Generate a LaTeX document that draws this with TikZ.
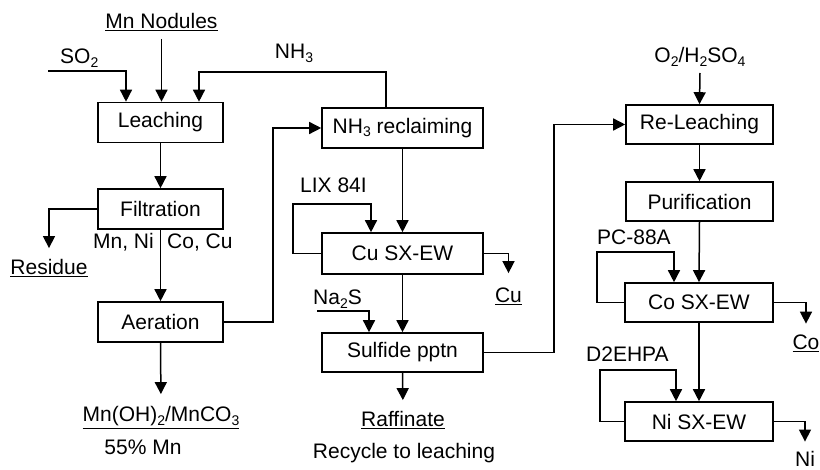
\documentclass[tikz,border=0pt]{standalone}
\usepackage{fontspec}
\setmainfont{Liberation Sans}
\usetikzlibrary{arrows.meta}
\newcommand\chsub[1]{\raisebox{-0.3ex}{\fontsize{14}{14}\selectfont #1}}
\begin{document}
\begin{tikzpicture}[x=1pt,y=-1pt, font=\fontsize{21}{25}\selectfont,
 box/.style={draw, line width=1.6pt, inner sep=0pt, minimum height=40pt},
 lab/.style={inner sep=0pt, anchor=base},
 labw/.style={inner sep=0pt, anchor=base west},
 labe/.style={inner sep=0pt, anchor=base east},
 arr/.style={line width=1.5pt, -{Triangle[width=12pt,length=12pt]}},
 ln/.style={line width=1.5pt}]
\useasboundingbox (0,0) rectangle (820,470);

% boxes
\node[box, minimum width=125pt] (leach) at (160.5,122.5) {Leaching};
\node[box, minimum width=125pt] (filt) at (160.5,209) {Filtration};
\node[box, minimum width=125pt] (aer) at (160.5,322) {Aeration};
\node[box, minimum width=161pt] (nhrec) at (402.5,128) {NH\chsub{3} reclaiming};
\node[box, minimum width=161pt, minimum height=41pt] (cu) at (402.5,253.5) {Cu SX-EW};
\node[box, minimum width=161pt, minimum height=39pt] (sulf) at (402.5,352.5) {Sulfide pptn};
\node[box, minimum width=147pt, minimum height=39pt] (rel) at (699.5,124.5) {Re-Leaching};
\node[box, minimum width=147pt, minimum height=39pt] (pur) at (699.5,201.5) {Purification};
\node[box, minimum width=148pt, minimum height=39pt] (co) at (699,302.5) {Co SX-EW};
\node[box, minimum width=148pt, minimum height=39pt] (ni) at (699,421.5) {Ni SX-EW};

% labels
\node[lab] (mn) at (161.5,29) {\underline{Mn Nodules}};
\node[labw] (so2) at (60,64) {SO\chsub{2}};
\node[lab] (nh3) at (294,59) {NH\chsub{3}};
\node[labe] (mnni) at (154,249) {Mn, Ni};
\node[labw] (cocu) at (167,249) {Co, Cu};
\node[lab] (res) at (49,275) {\underline{Residue}};
\node[lab] (mnoh) at (161,422) {\underline{Mn(OH)\chsub{2}/MnCO\chsub{3}}};
\node[lab] (pct) at (143,455) {55\% Mn};
\node[labw] (lix) at (300,193) {LIX 84I};
\node[lab] (culab) at (508.5,303) {\underline{Cu}};
\node[labw] (na2s) at (313,305) {Na\chsub{2}S};
\node[lab] (raff) at (403,427) {\underline{Raffinate}};
\node[lab] (recy) at (404,458) {Recycle to leaching};
\node[lab] (o2) at (700,63) {O\chsub{2}/H\chsub{2}SO\chsub{4}};
\node[labw] (pc) at (597,245) {PC-88A};
\node[lab] (colab) at (806,350) {\underline{Co}};
\node[labw] (d2) at (586,362) {D2EHPA};
\node[lab] (nilab) at (805,467) {Ni};

% coordinates
\coordinate (mnA) at (161.5,39);
\coordinate (so2A) at (48,71);
\coordinate (nhA) at (386,72);
\coordinate (aerA) at (273,322);
\coordinate (lixA) at (293,204);
\coordinate (naA) at (317,311);
\coordinate (sulfA) at (554,352.5);
\coordinate (o2A) at (700,73);
\coordinate (pcA) at (597,252);
\coordinate (d2A) at (600,370);

% connectors
\draw[arr] (mnA) -- (mnA |- leach.north);
\draw[arr] (so2A) -| ([xshift=-34.5pt]leach.north);
\draw[arr] ([xshift=-16.5pt]nhrec.north) |- (nhA) -| ([xshift=38.5pt]leach.north);
\draw[arr] (leach.south) -- (filt.north);
\draw[arr, shorten >=11.5pt] (filt.west) -| (res.north);
\draw[arr] (filt.south) -- (aer.north);
\draw[arr, shorten >=12.5pt] (aer.south) -- (mnoh.north);
\draw[arr] (aer.east) -- (aerA) |- (nhrec.west);
\draw[arr] (nhrec.south) -- (cu.north);
\draw[arr] (cu.west) -| (lixA) -| ([xshift=-31.5pt]cu.north);
\draw[arr, shorten >=15pt] (cu.east) -| (culab.north);
\draw[arr] (cu.south) -- (sulf.north);
\draw[arr] (naA) -| ([xshift=-33.5pt]sulf.north);
\draw[arr, shorten >=11.5pt] (sulf.south) -- (raff.north);
\draw[arr] (sulf.east) -- (sulfA) |- (rel.west);
\draw[arr] (o2A) -- (rel.north);
\draw[arr] (rel.south) -- (pur.north);
\draw[arr] (pur.south) -- (co.north);
\draw[arr] (co.west) -| (pcA) -| ([xshift=-25pt]co.north);
\draw[arr, shorten >=11.5pt] (co.east) -| (colab.north);
\draw[arr] (co.south) -- (ni.north);
\draw[arr] (ni.west) -| (d2A) -| ([xshift=-23pt]ni.north);
\draw[arr, shorten >=10pt] (ni.east) -| (nilab.north);
\end{tikzpicture}
\end{document}
